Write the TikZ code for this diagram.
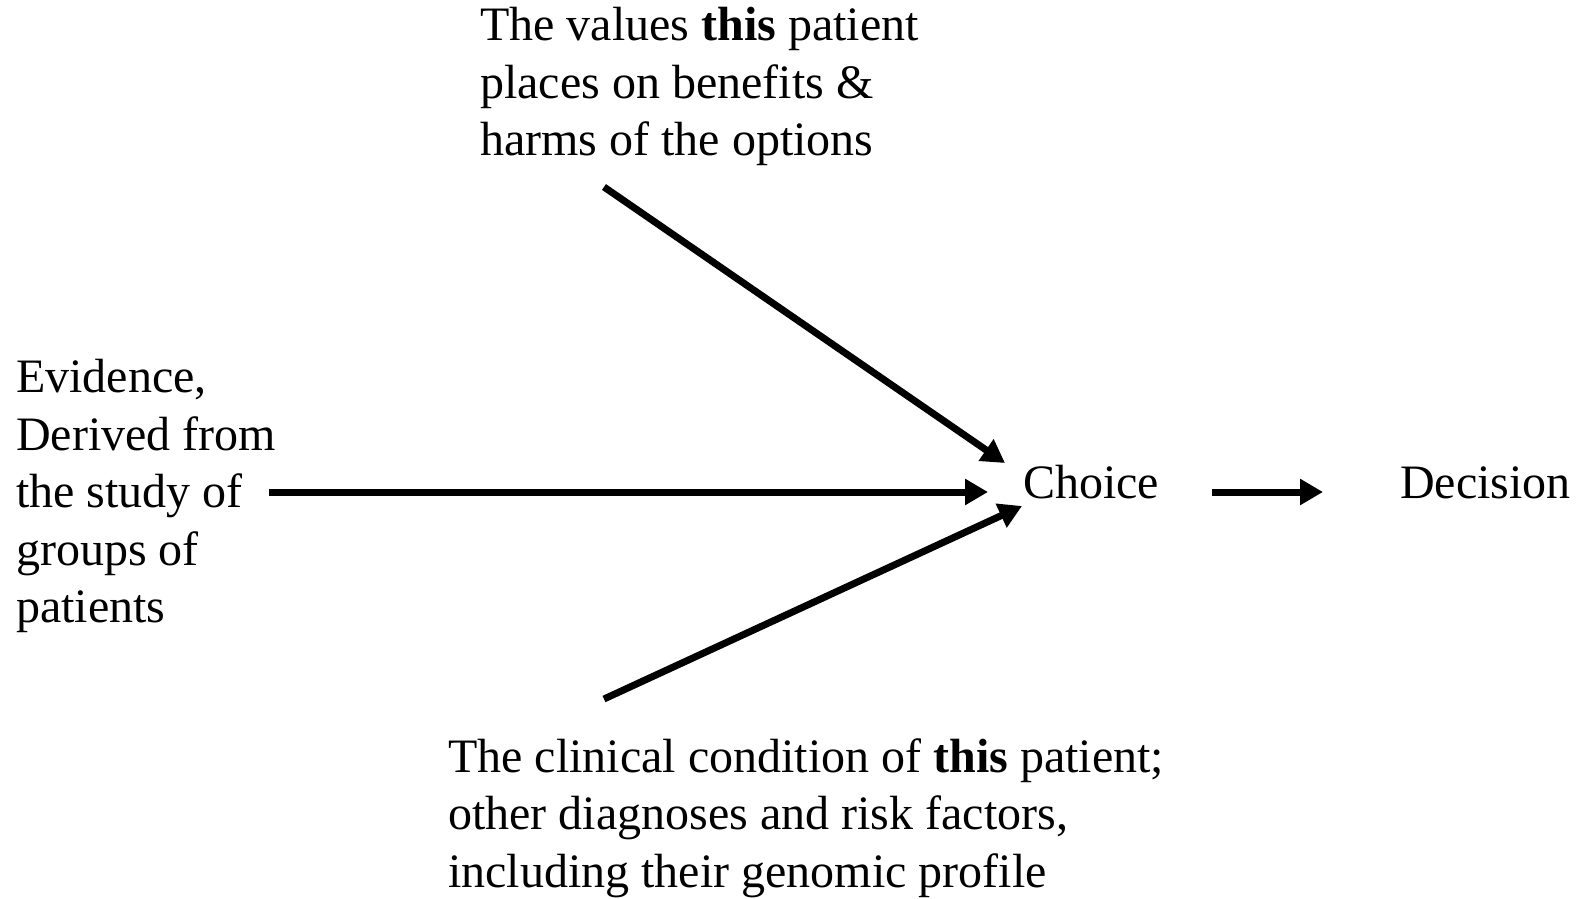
\documentclass[tikz,border=0pt]{standalone}
\usepackage{fontspec}
\setmainfont{Liberation Serif}
\usetikzlibrary{arrows.meta}
\begin{document}
\begin{tikzpicture}[x=1pt,y=-1pt,
  lbl/.style={font=\fontsize{48}{57.5}\selectfont, inner sep=0pt, align=left},
  conn/.style={line width=7pt, -{Triangle[length=23pt,width=25pt]}}]
\useasboundingbox (0,0) rectangle (1584,899);
\node[lbl, anchor=north west] (evid) at (16,359) {Evidence,\\Derived from\\the study of\\groups of\\patients};
\node[lbl, anchor=north west] (vals) at (480,7) {The values \textbf{this} patient\\places on benefits \&\\harms of the options};
\node[lbl, anchor=north west] (clin) at (448,738) {The clinical condition of \textbf{this} patient;\\other diagnoses and risk factors,\\including their genomic profile};
\node[lbl, anchor=base west] (choice) at (1023,498) {Choice};
\node[lbl, anchor=base west] (dec) at (1400,498) {Decision};
\coordinate (vs) at (604,187);
\coordinate (ve) at (1005,463);
\coordinate (es) at (269,492);
\coordinate (ee) at (988,492);
\coordinate (cs) at (604,699);
\coordinate (ce) at (1022,506);
\coordinate (ds) at (1212,492);
\coordinate (de) at (1323,492);
\draw[conn] (vs) -- (ve);
\draw[conn] (es) -- (ee);
\draw[conn] (cs) -- (ce);
\draw[conn] (ds) -- (de);
\end{tikzpicture}
\end{document}
